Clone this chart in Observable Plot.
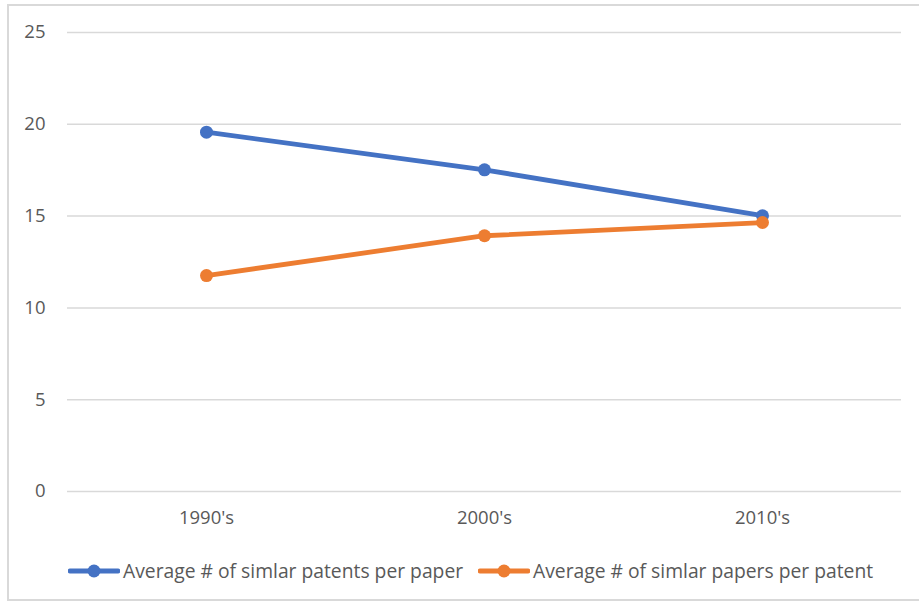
<!DOCTYPE html>
<html>
<head>
<meta charset="utf-8">
<script src="https://cdn.jsdelivr.net/npm/d3@7"></script>
<script src="https://cdn.jsdelivr.net/npm/@observablehq/plot@0.6"></script>
<style>
  html, body { margin: 0; padding: 0; background: #fff; }
  body { width: 919px; height: 605px; position: relative; overflow: hidden; font-family: "Open Sans", Lato, sans-serif; }
  #frame { position: absolute; left: 7px; top: 4px; width: 920px; height: 597px; border: 2px solid #d9d9d9; box-sizing: border-box; }
  #chart { position: absolute; left: 0; top: 0; }
  #legend { position: absolute; top: 557px; left: 0; width: 919px; height: 24px; font-size: 19.3px; color: #595959; }
  .item { position: absolute; display: flex; align-items: center; white-space: nowrap; }
  .item svg { margin-right: 3px; }
</style>
</head>
<body>
<div id="frame"></div>
<div id="chart"></div>
<div id="legend"></div>
<script>
const decades = ["1990's", "2000's", "2010's"];
const patentsPerPaper = [19.57, 17.52, 15.02];
const papersPerPatent = [11.76, 13.93, 14.65];
const seriesNames = ["Average # of simlar patents per paper", "Average # of simlar papers per patent"];
const seriesColors = ["#4472C4", "#ED7D31"];
const yTicks = [0, 5, 10, 15, 20, 25];

const rows = [];
decades.forEach((d, i) => {
  rows.push({decade: d, value: patentsPerPaper[i], series: seriesNames[0]});
  rows.push({decade: d, value: papersPerPatent[i], series: seriesNames[1]});
});

const plot = Plot.plot({
  width: 919,
  height: 550,
  marginLeft: 67,
  marginRight: 18,
  marginTop: 32,
  marginBottom: 59,
  style: {fontFamily: "'Open Sans', Lato, sans-serif", fontSize: "18.5px", color: "#595959", background: "transparent"},
  x: {type: "point", domain: decades, padding: 0.5, label: null, tickSize: 0, tickPadding: 22},
  y: {domain: [0, 25], ticks: yTicks, label: null, tickSize: 0, tickPadding: 22, tickFormat: d => String(d)},
  color: {domain: seriesNames, range: seriesColors},
  marks: [
    Plot.gridY(yTicks, {stroke: "#d9d9d9", strokeOpacity: 1, strokeWidth: 1.5}),
    Plot.axisY({ticks: yTicks, tickSize: 0, tickPadding: 22, fill: "#595959", fontSize: 18.5}),
    Plot.axisX({tickSize: 0, tickPadding: 19, fill: "#595959", fontSize: 18.5}),
    Plot.line(rows, {x: "decade", y: "value", z: "series", stroke: "series", strokeWidth: 4.8}),
    Plot.dot(rows, {x: "decade", y: "value", fill: "series", r: 6.5})
  ]
});
document.getElementById("chart").appendChild(plot);

const legend = document.getElementById("legend");
const lefts = [68, 478];
seriesNames.forEach((name, i) => {
  const item = document.createElement("div");
  item.className = "item";
  item.style.left = lefts[i] + "px";
  item.style.top = "0px";
  item.innerHTML = `<svg width="52" height="20"><line x1="2" y1="10" x2="50" y2="10" stroke="${seriesColors[i]}" stroke-width="4.8" stroke-linecap="round"/><circle cx="26" cy="10" r="6.5" fill="${seriesColors[i]}"/></svg><span>${name}</span>`;
  legend.appendChild(item);
});
</script>
</body>
</html>
